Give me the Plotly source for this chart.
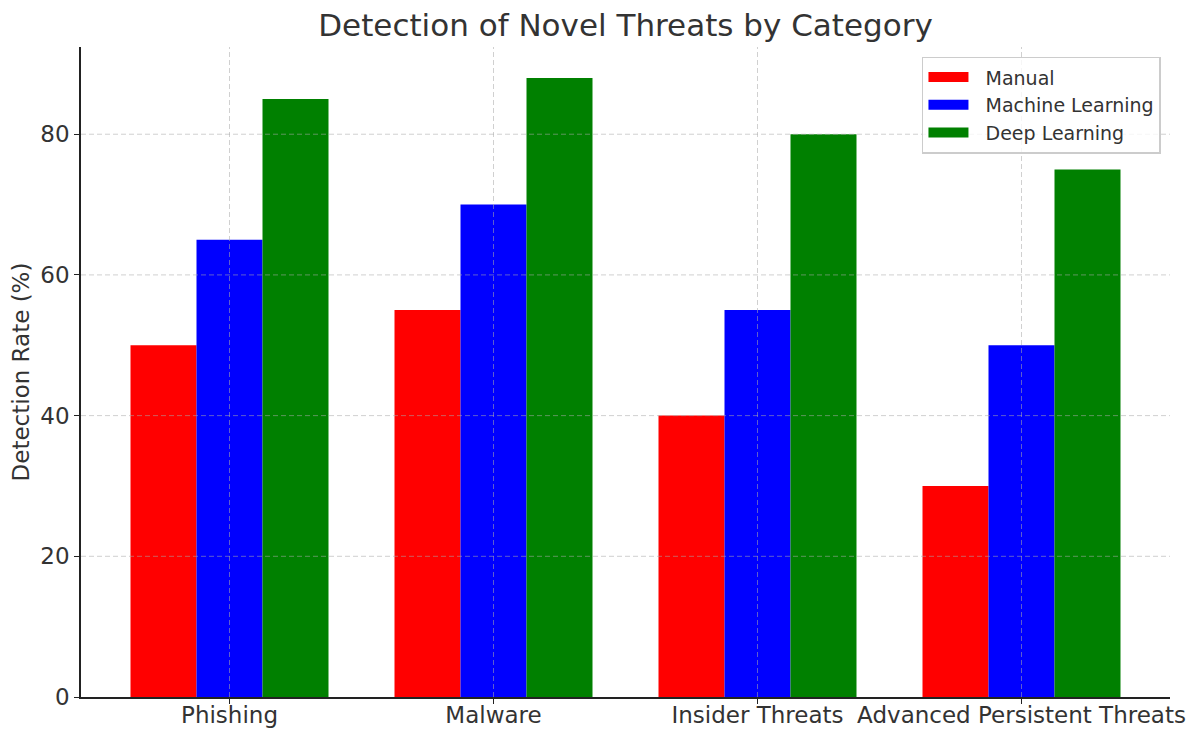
import plotly.graph_objects as go

# Threat categories and detection rates (%) per approach
categories = ["Phishing", "Malware", "Insider Threats", "Advanced Persistent Threats"]
manual = [50, 55, 40, 30]
machine_learning = [65, 70, 55, 50]
deep_learning = [85, 88, 80, 75]
y_ticks = [0, 20, 40, 60, 80]

series = [
    ("Manual", manual, "#ff0000", -1),
    ("Machine Learning", machine_learning, "#0000ff", 0),
    ("Deep Learning", deep_learning, "#008000", 1),
]
bar_w = 0.25
idx = list(range(len(categories)))

fig = go.Figure()
for name, vals, color, k in series:
    fig.add_trace(go.Bar(
        x=[i + k * bar_w for i in idx],
        y=vals,
        width=bar_w,
        name=name,
        showlegend=False,
        legendgroup=name,
        marker=dict(color=color, line=dict(width=0)),
    ))
# wide rectangular legend swatches (non-breaking spaces pad the label gap)
for name, vals, color, k in series:
    fig.add_trace(go.Scatter(
        x=[None], y=[None], mode="lines", name="\u00a0\u00a0" + name, legendgroup=name,
        line=dict(color=color, width=13),
    ))

text_color = "#333333"
font_family = "DejaVu Sans"

# dashed grid drawn on top of the bars
grid_style = dict(color="rgba(170,170,170,0.55)", width=1, dash="5px,3px")
for t in y_ticks[1:]:
    fig.add_shape(type="line", xref="paper", yref="y", x0=0, x1=1, y0=t, y1=t,
                  line=grid_style, layer="above")
for i in idx:
    fig.add_shape(type="line", xref="x", yref="paper", x0=i, x1=i, y0=0, y1=1,
                  line=grid_style, layer="above")

ymax = max(deep_learning) * 1.05
fig.update_layout(
    width=1199, height=729,
    margin=dict(l=81, r=29, t=47, b=32),
    paper_bgcolor="white", plot_bgcolor="white",
    font=dict(family=font_family, color=text_color, size=23),
    barmode="overlay",
    title=dict(text="Detection of Novel Threats by Category", x=0.5217, xanchor="center",
               y=0.965, yanchor="middle", font=dict(size=31, color=text_color)),
    legend=dict(x=0.9917, y=0.985, xanchor="right", yanchor="top",
                bgcolor="rgba(255,255,255,0.8)", bordercolor="#cccccc", borderwidth=1.5,
                font=dict(size=19, color=text_color), traceorder="normal",
                itemwidth=40, tracegroupgap=0),
    showlegend=True,
)
fig.update_xaxes(
    range=[-0.5625, len(categories) - 1 + 0.5625],
    tickvals=idx, ticktext=categories,
    showgrid=False, zeroline=False, automargin=False,
    showline=True, linecolor="#222222", linewidth=1.5,
    ticks="outside", ticklen=5, tickwidth=1.2, tickcolor="#222222",
    tickfont=dict(size=23, color=text_color),
    ticklabelstandoff=-8,
    mirror=False,
)
fig.update_yaxes(
    range=[0, ymax],
    tickvals=y_ticks,
    showgrid=False, zeroline=False, automargin=False,
    showline=True, linecolor="#222222", linewidth=1.5,
    ticks="outside", ticklen=5, tickwidth=1.2, tickcolor="#222222",
    tickfont=dict(size=23, color=text_color),
    title=dict(text="Detection Rate (%)", font=dict(size=23, color=text_color), standoff=4),
)

fig.write_html("out.html")
